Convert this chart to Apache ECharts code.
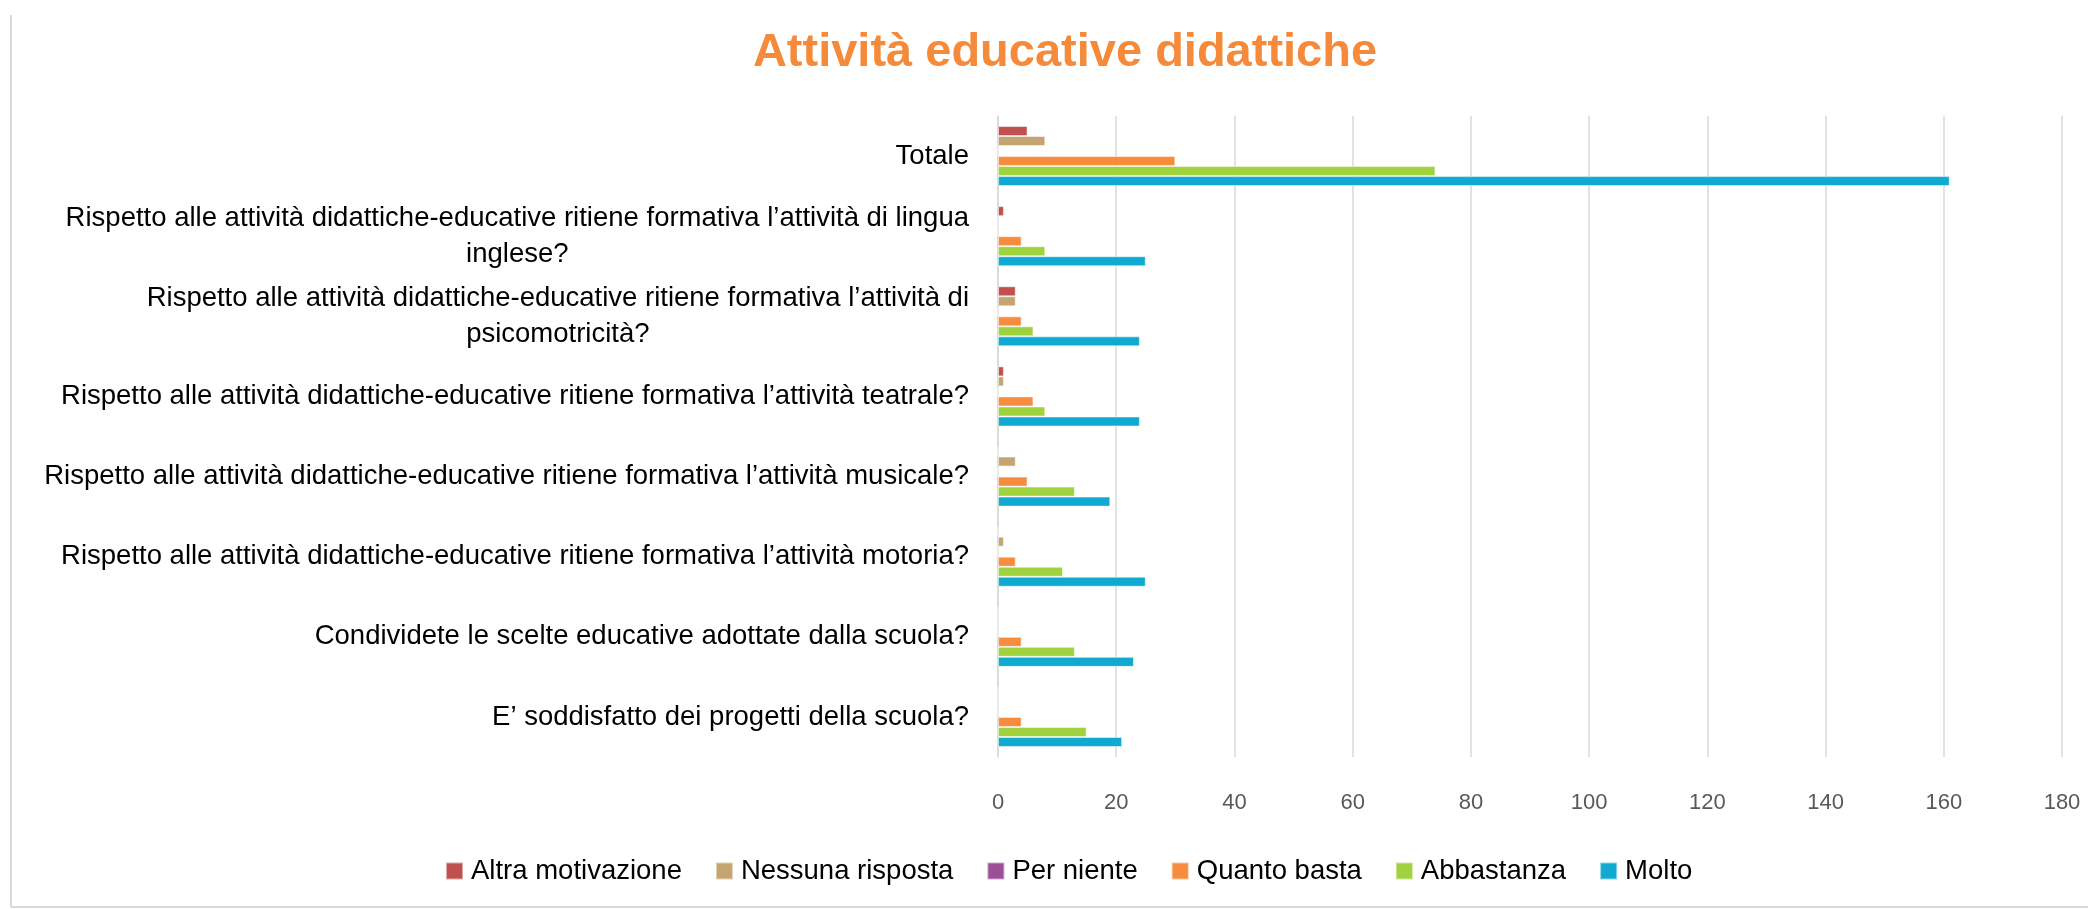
<!DOCTYPE html>
<html>
<head>
<meta charset="utf-8">
<script src="https://cdn.jsdelivr.net/npm/echarts@6/dist/echarts.min.js"></script>
<style>
  html, body { margin: 0; padding: 0; background: #fff; }
  #chart { width: 2088px; height: 909px; }
</style>
</head>
<body>
<div id="chart"></div>
<script>
// categories, top to bottom
const categories = [
  'Totale',
  'Rispetto alle attività didattiche-educative ritiene formativa l’attività di lingua\ninglese?',
  'Rispetto alle attività didattiche-educative ritiene formativa l’attività di\npsicomotricità?',
  'Rispetto alle attività didattiche-educative ritiene formativa l’attività teatrale?',
  'Rispetto alle attività didattiche-educative ritiene formativa l’attività musicale?',
  'Rispetto alle attività didattiche-educative ritiene formativa l’attività motoria?',
  'Condividete le scelte educative adottate dalla scuola?',
  'E’ soddisfatto dei progetti della scuola?'
]

const seriesNames = ['Altra motivazione', 'Nessuna risposta', 'Per niente', 'Quanto basta', 'Abbastanza', 'Molto']

const altraMotivazione = [5, 1, 3, 1, 0, 0, 0, 0]
const nessunaRisposta = [8, 0, 3, 1, 3, 1, 0, 0]
const perNiente = [0, 0, 0, 0, 0, 0, 0, 0]
const quantoBasta = [30, 4, 4, 6, 5, 3, 4, 4]
const abbastanza = [74, 8, 6, 8, 13, 11, 13, 15]
const molto = [161, 25, 24, 24, 19, 25, 23, 21]

const xTicks = [0, 20, 40, 60, 80, 100, 120, 140, 160, 180]

const colors = ['#c0504d', '#c4a571', '#9b4f96', '#f68c3e', '#a0d23d', '#10aad0']

const chart = echarts.init(document.getElementById('chart'))

const seriesData = [altraMotivazione, nessunaRisposta, perNiente, quantoBasta, abbastanza, molto]

const option = {
  color: colors,
  textStyle: { fontFamily: 'Liberation Sans' },
  title: {
    text: 'Attività educative didattiche',
    left: 1060,
    top: 25,
    textAlign: 'center',
    textStyle: { color: '#f58a3a', fontSize: 47, fontWeight: 'bold', fontFamily: 'Liberation Sans' }
  },
  legend: {
    data: seriesNames,
    left: 440,
    top: 852,
    itemWidth: 17,
    itemHeight: 17,
    itemGap: 33,
    icon: 'rect',
    textStyle: { fontSize: 27.5, color: '#000', padding: [0, 0, 0, 3] }
  },
  grid: { left: 998, right: 26, top: 116, bottom: 152 },
  xAxis: {
    type: 'value',
    min: xTicks[0],
    max: xTicks[xTicks.length - 1],
    interval: 20,
    axisLine: { show: false },
    axisTick: { show: false },
    axisLabel: { fontSize: 22, color: '#595959', margin: 35 },
    splitLine: { lineStyle: { color: '#d9d9d9', width: 1.5 } }
  },
  yAxis: {
    type: 'category',
    inverse: true,
    data: categories,
    axisTick: { show: false },
    axisLine: { lineStyle: { color: '#d9d9d9', width: 1.5 } },
    axisLabel: {
      fontSize: 27.5,
      color: '#000',
      margin: 29,
      lineHeight: 36,
      formatter: (v) => {
        const parts = v.split('\n')
        if (parts.length === 1) return v
        return parts[0] + '\n{c|' + parts[1] + '}'
      },
      rich: { c: { align: 'center', fontSize: 27.5, lineHeight: 36, color: '#000' } }
    }
  },
  series: seriesNames.map((name, i) => ({
    name: name,
    type: 'bar',
    data: seriesData[i],
    barGap: '0%',
    barCategoryGap: '25%',
    itemStyle: { borderColor: 'rgba(255,255,255,0.5)', borderWidth: 1 }
  })),
  graphic: [
    { type: 'line', shape: { x1: 11, y1: 15, x2: 11, y2: 907 }, style: { stroke: '#d9d9d9', lineWidth: 2 } },
    { type: 'line', shape: { x1: 11, y1: 907, x2: 2088, y2: 907 }, style: { stroke: '#d9d9d9', lineWidth: 2 } }
  ]
}

chart.setOption(option)
</script>
</body>
</html>
